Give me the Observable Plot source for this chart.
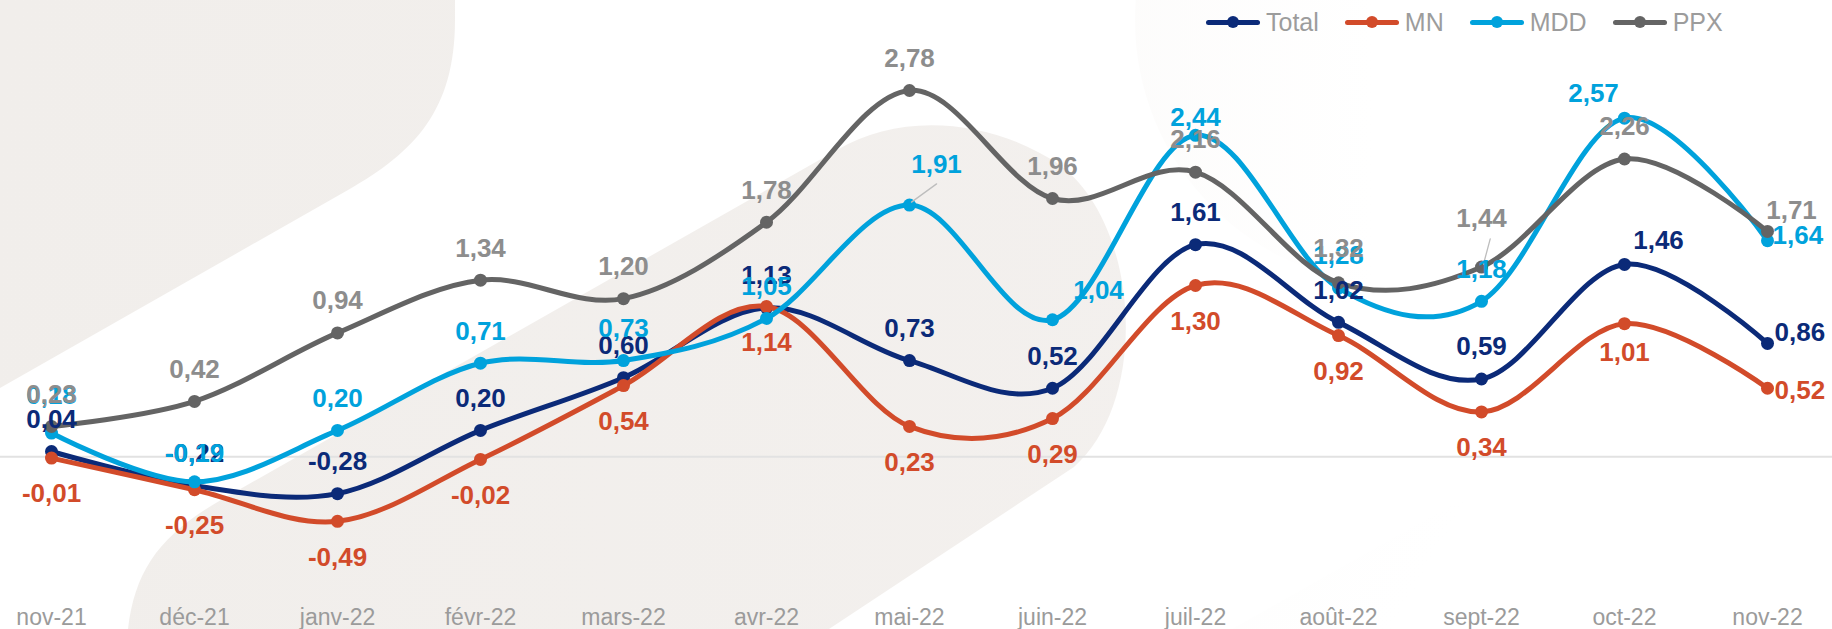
<!DOCTYPE html>
<html>
<head>
<meta charset="utf-8">
<script src="https://cdn.jsdelivr.net/npm/d3@7"></script>
<script src="https://cdn.jsdelivr.net/npm/@observablehq/plot@0.6"></script>
<style>
  html, body { margin: 0; padding: 0; background: #fff; }
  #wrap { position: relative; width: 1832px; height: 629px; overflow: hidden;
          font-family: "Liberation Sans", Arial, sans-serif; }
  .bg { position: absolute; left: 0; top: 0; width: 1832px; height: 629px; }
  #bgA { background: linear-gradient(100deg, #f1eeeb, #f3f0ee);
         clip-path: path('M0 0 H455 V20 C455 110 415 152 348 190 L0 388 Z'); }
  #bgB { background: linear-gradient(90deg, #f1eeeb, #f4f1ef);
         clip-path: path('M128 629 C135 570 160 535 221 500 L837 150 C900 112 990 118 1060 165 C1140 225 1150 400 1074 467 L829 629 Z'); }
  #bgC { background: linear-gradient(90deg, #f2efec 0%, #f8f6f4 35%, #ffffff 75%);
         clip-path: circle(265px at 1400px 20px); }
  #bgD { background: linear-gradient(120deg, #f6f4f2 0%, #fbfaf9 45%, #ffffff 80%);
         clip-path: path('M1232 629 L1832 290 V629 Z'); }
  #legend { position: relative; z-index: 2; height: 44px; display: flex; align-items: center;
            padding-left: 1206px; box-sizing: border-box; }
  .item { display: flex; align-items: center; margin-right: 26px; }
  .sym { position: relative; width: 54px; height: 12px; margin-right: 6px; }
  .sym .ln { position: absolute; left: 0; right: 0; top: 3.5px; height: 5px; border-radius: 2.5px; }
  .sym .dt { position: absolute; left: 21px; top: 0; width: 12px; height: 12px; border-radius: 50%; }
  .lab { font-size: 25px; color: #9c9c9c; line-height: 1; }
  #chart { position: relative; z-index: 2; }
</style>
</head>
<body>
<div id="wrap">
  <div class="bg" id="bgA"></div>
  <div class="bg" id="bgB"></div>
  <div class="bg" id="bgC"></div>
  <div class="bg" id="bgD"></div>
  <div id="legend"></div>
  <div id="chart"></div>
</div>
<script>
// ---- data ----
const months = ["nov-21","déc-21","janv-22","févr-22","mars-22","avr-22","mai-22","juin-22","juil-22","août-22","sept-22","oct-22","nov-22"];
const seriesNames = ["Total","MN","MDD","PPX"];
const totalValues = [0.04,-0.22,-0.28,0.20,0.60,1.13,0.73,0.52,1.61,1.02,0.59,1.46,0.86];
const mnValues    = [-0.01,-0.25,-0.49,-0.02,0.54,1.14,0.23,0.29,1.30,0.92,0.34,1.01,0.52];
const mddValues   = [0.18,-0.19,0.20,0.71,0.73,1.05,1.91,1.04,2.44,1.28,1.18,2.57,1.64];
const ppxValues   = [0.23,0.42,0.94,1.34,1.20,1.78,2.78,1.96,2.16,1.32,1.44,2.26,1.71];

// ---- styles ----
const lineColors  = {Total: "#0b2a78", MN: "#d24b2a", MDD: "#00a2dc", PPX: "#646464"};
const labelColors = {Total: "#0b2a78", MN: "#d24b2a", MDD: "#00a2dc", PPX: "#8d8d8d"};
const labelLayout = {
  Total: {dy: -32, over: {11: {dx: 34, dy: -24}, 12: {dx: 7, dy: -11, anchor: "start"}}},
  MN:    {dy: 36,  over: {11: {dy: 29}, 12: {dx: 7, dy: 2, anchor: "start"}}},
  MDD:   {dy: -32, over: {0: {dy: -37}, 1: {dy: -28}, 6: {dx: 27, dy: -40}, 7: {dx: 46, dy: -29},
                          8: {dy: -18}, 11: {dx: -31, dy: -24}, 12: {dx: 5, dy: -5, anchor: "start"}}},
  PPX:   {dy: -32, over: {9: {dy: -34}, 10: {dy: -48}, 12: {dx: 24, dy: -21}}}
};
const leaders = [
  {series: "MDD", index: 6, angle: 54, length: 31},
  {series: "PPX", index: 10, angle: 15, length: 26}
];

const valuesBySeries = {Total: totalValues, MN: mnValues, MDD: mddValues, PPX: ppxValues};
const rows = [];
for (const s of seriesNames) {
  valuesBySeries[s].forEach((v, i) => rows.push({series: s, index: i, month: months[i], value: v,
    label: v.toFixed(2).replace(".", ",")}));
}

// ---- legend ----
const legend = document.getElementById("legend");
for (const s of seriesNames) {
  const it = document.createElement("div");
  it.className = "item";
  it.innerHTML = `<div class="sym"><div class="ln" style="background:${lineColors[s]}"></div><div class="dt" style="background:${lineColors[s]}"></div></div><div class="lab">${s}</div>`;
  legend.appendChild(it);
}

// ---- marks ----
const marks = [
  Plot.ruleY([0], {stroke: "#e2e2e2", strokeWidth: 2, insetLeft: -47, insetRight: -61})
];
for (const s of seriesNames) {
  const d = rows.filter(r => r.series === s);
  marks.push(Plot.line(d, {x: "month", y: "value", stroke: lineColors[s], strokeWidth: 5, curve: "cardinal"}));
  marks.push(Plot.dot(d, {x: "month", y: "value", fill: lineColors[s], r: 6.5}));
}
for (const l of leaders) {
  const d = rows.filter(r => r.series === l.series && r.index === l.index);
  marks.push(Plot.vector(d, {x: "month", y: "value", rotate: l.angle, length: l.length, anchor: "start",
    r: 0, stroke: "#bdbdbd", strokeWidth: 1.3, dx: 2, dy: -3}));
}
for (const s of seriesNames) {
  const lay = labelLayout[s];
  const groups = new Map();
  for (const r of rows.filter(r => r.series === s)) {
    const o = lay.over[r.index] || {};
    const dx = o.dx ?? 0, dy = o.dy ?? lay.dy, anchor = o.anchor ?? "middle";
    const key = `${dx}|${dy}|${anchor}`;
    if (!groups.has(key)) groups.set(key, {dx, dy, anchor, data: []});
    groups.get(key).data.push(r);
  }
  for (const g of groups.values()) {
    marks.push(Plot.text(g.data, {x: "month", y: "value", text: "label", fill: labelColors[s],
      fontSize: 26, fontWeight: "bold", dx: g.dx, dy: g.dy, textAnchor: g.anchor}));
  }
}

const chart = Plot.plot({
  width: 1832,
  height: 585,
  marginLeft: 47,
  marginRight: 61,
  marginTop: 17,
  marginBottom: 41,
  x: {type: "point", domain: months, padding: 0, tickSize: 0, tickPadding: 20, label: null},
  y: {domain: [-1, 3], axis: null},
  style: {fontFamily: "'Liberation Sans', Arial, sans-serif", fontSize: "23px", color: "#9b9b9b",
          background: "transparent", overflow: "visible"},
  marks
});
document.getElementById("chart").appendChild(chart);
</script>
</body>
</html>
